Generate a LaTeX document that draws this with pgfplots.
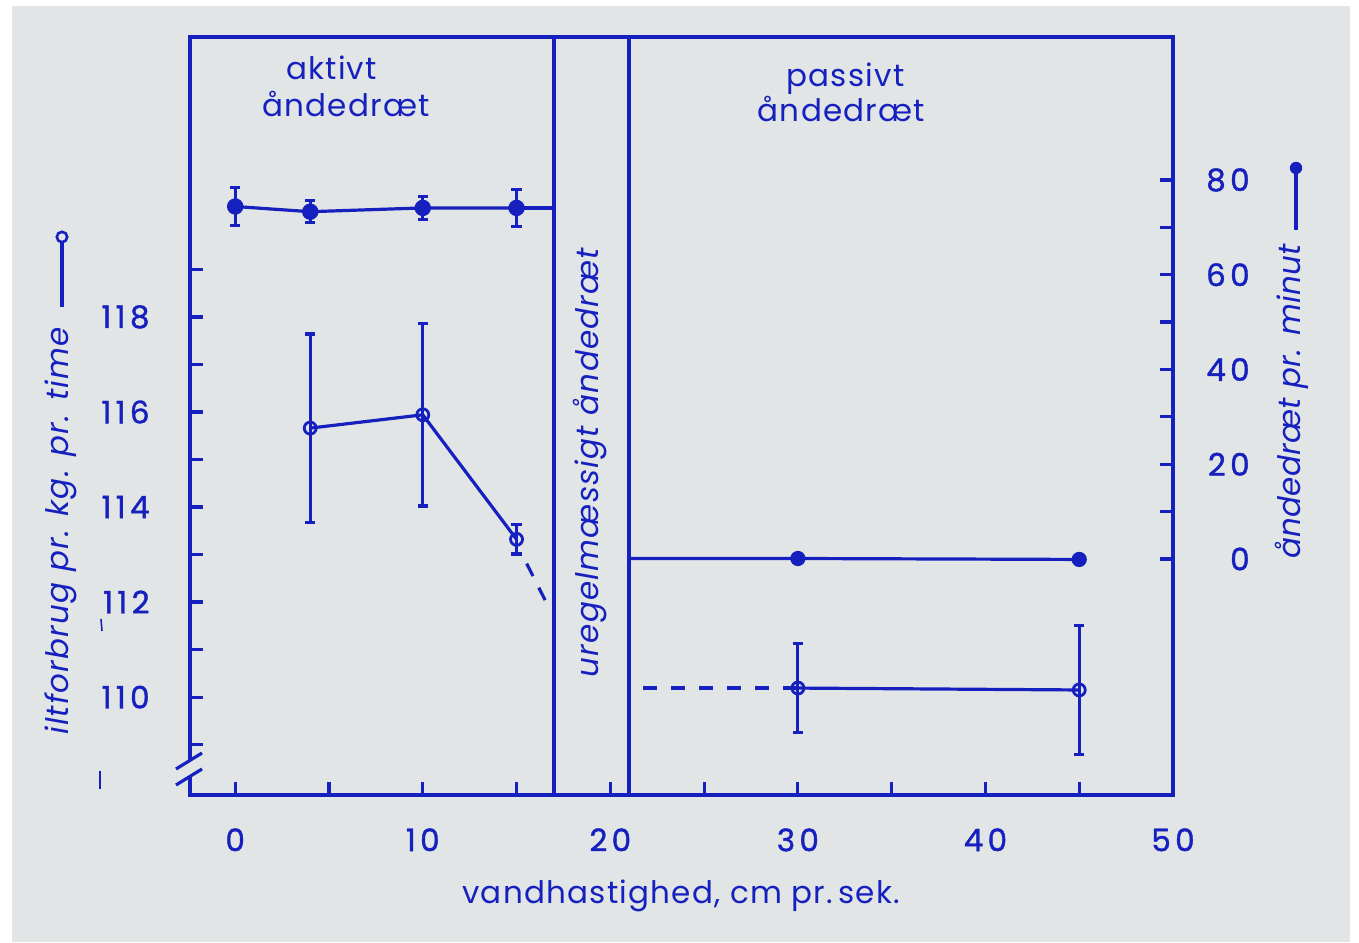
\documentclass[border=0pt]{standalone}
\usepackage{pgfplots}
\pgfplotsset{compat=1.18}
\usepackage{fontspec}
\setmainfont{Poppins}
\newfontfamily\lsp{Poppins}[LetterSpace=4]
\newfontfamily\lspb{Poppins}[LetterSpace=1]
\newfontfamily\tickf{Poppins}[LetterSpace=14, FakeBold=1.2]
\definecolor{ink}{RGB}{22,32,190}
\definecolor{paper}{RGB}{226,229,230}
\newcommand\ff{\fontsize{15.5}{18}\selectfont}
\pgfplotsset{
  ebar/.style={error bars/.cd, y dir=both, y explicit,
    error bar style={line width=1.6pt},
    error mark options={rotate=90, line width=1.6pt, mark size=2.6pt}},
}
\begin{document}
\begin{tikzpicture}
\fill[white] (0,0) rectangle (679.5pt,471pt);
\fill[paper] (6pt,0pt) rectangle (675pt,468pt);
% ---------- left axis: iltforbrug ----------
\begin{axis}[
  at={(95pt,73.5pt)}, anchor=south west, scale only axis,
  width=491.5pt, height=379pt,
  xmin=-2.41, xmax=50, ymin=107.94, ymax=123.89,
  axis line style={ink, line width=1.6pt},
  every tick/.style={ink, line width=1.6pt},
  major tick length=6.5pt, minor tick length=6.5pt, tick align=inside,
  xtick={0,10,...,50}, minor xtick={5,15,...,45},
  ytick={110,112,...,118}, minor ytick={109,111,...,119},
  xtick pos=left, ytick pos=left,
  /pgf/number format/assume math mode=true,
  ticklabel style={font=\ff\tickf, text=ink, inner sep=0pt},
  xticklabel style={anchor=north, yshift=-16.5pt},
  yticklabel style={anchor=east, xshift=-20pt},
  clip=false,
]
\draw[ink, line width=1.6pt] (axis cs:17,107.94) -- (axis cs:17,123.89);
\draw[ink, line width=1.6pt] (axis cs:21,107.94) -- (axis cs:21,123.89);
\addplot[ink, line width=1.6pt, dash pattern=on 7pt off 6.5pt, forget plot]
  coordinates {(15.54,112.81) (16.55,112.02)};
\addplot[ink, line width=1.6pt, dash pattern=on 7pt off 7pt, forget plot]
  coordinates {(21.74,110.19) (30,110.19)};
\addplot[ink, line width=1.6pt, mark=o, mark size=3pt,
  mark options={fill=paper, solid, line width=1.4pt}, ebar]
  coordinates {(4,115.66) +- (0,1.98) (10,115.94) +- (0,1.92) (15,113.32) +- (0,0.31)};
\addplot[ink, line width=1.6pt, mark=o, mark size=3pt,
  mark options={fill=paper, solid, line width=1.4pt}, ebar]
  coordinates {(30,110.19) +- (0,0.93) (45,110.15) +- (0,1.36)};
\end{axis}
% ---------- right axis: aandedraet pr minut ----------
\begin{axis}[
  at={(95pt,73.5pt)}, anchor=south west, scale only axis,
  width=491.5pt, height=379pt,
  xmin=-2.41, xmax=50, ymin=-49.82, ymax=110.18,
  axis x line=none, axis y line*=right,
  axis line style={ink, line width=1.6pt},
  every tick/.style={ink, line width=1.6pt},
  major tick length=6.5pt, minor tick length=6.5pt, tick align=inside,
  ytick={0,20,...,80}, minor ytick={10,30,...,70},
  /pgf/number format/assume math mode=true,
  ticklabel style={font=\ff\tickf, text=ink, inner sep=0pt},
  yticklabel style={anchor=east, xshift=38.5pt},
  clip=false,
]
\addplot[ink, line width=1.6pt, forget plot] coordinates {(15,74.1) (17,74.1)};
\addplot[ink, line width=1.6pt, mark=*, mark size=3.3pt, ebar]
  coordinates {(0,74.4) +- (0,4.0) (4,73.3) +- (0,2.35) (10,74.1) +- (0,2.45) (15,74.1) +- (0,3.85)};
\addplot[ink, line width=1.6pt, mark=*, mark size=3.0pt, mark indices={2,3}]
  coordinates {(21,0.1) (30,0.1) (45,-0.1)};
\end{axis}
% ---------- texts and decorations (pixel frame) ----------
\begin{scope}[shift={(0,471pt)}, x=0.5pt, y=-0.5pt]
  % axis break
  \fill[paper] (186,761) rectangle (195,776);
  \draw[ink, line width=1.6pt] (176,769) -- (202,753);
  \draw[ink, line width=1.6pt] (176,785) -- (202,769);
  \draw[ink, line width=0.8pt] (101,619) -- (102,631);
  \draw[ink, line width=0.8pt] (100,771) -- (100,789);
  % labels
  \node[text=ink, font=\ff\lsp, anchor=base] at (331.5,80) {aktivt};
  \node[text=ink, font=\ff\lsp, anchor=base] at (346,117) {åndedræt};
  \node[text=ink, font=\ff\lsp, anchor=base] at (845.5,86.7) {passivt};
  \node[text=ink, font=\ff\lsp, anchor=base] at (841.5,121.7) {åndedræt};
  \node[text=ink, font=\ff\lsp\itshape, anchor=base, rotate=90] at (598,462.5) {uregelmæssigt åndedræt};
  \node[text=ink, font=\ff\lsp, anchor=base] at (681,903) {vandhastighed, cm pr.\,sek.};
  \node[text=ink, font=\ff\lsp\itshape, anchor=base, rotate=90] at (69,531) {iltforbrug pr. kg. pr. time};
  \node[text=ink, font=\ff\lspb\itshape, anchor=base, rotate=90] at (1300,401.5) {åndedræt pr. minut};
  % series keys beside the axis titles
  \draw[ink, line width=1.6pt] (62,243) -- (62,307);
  \draw[ink, line width=1.3pt, fill=paper] (62,237) circle (2.6pt);
  \draw[ink, line width=1.6pt] (1296,168) -- (1296,230);
  \fill[ink] (1296,168) circle (3.1pt);
\end{scope}
\end{tikzpicture}
\end{document}
